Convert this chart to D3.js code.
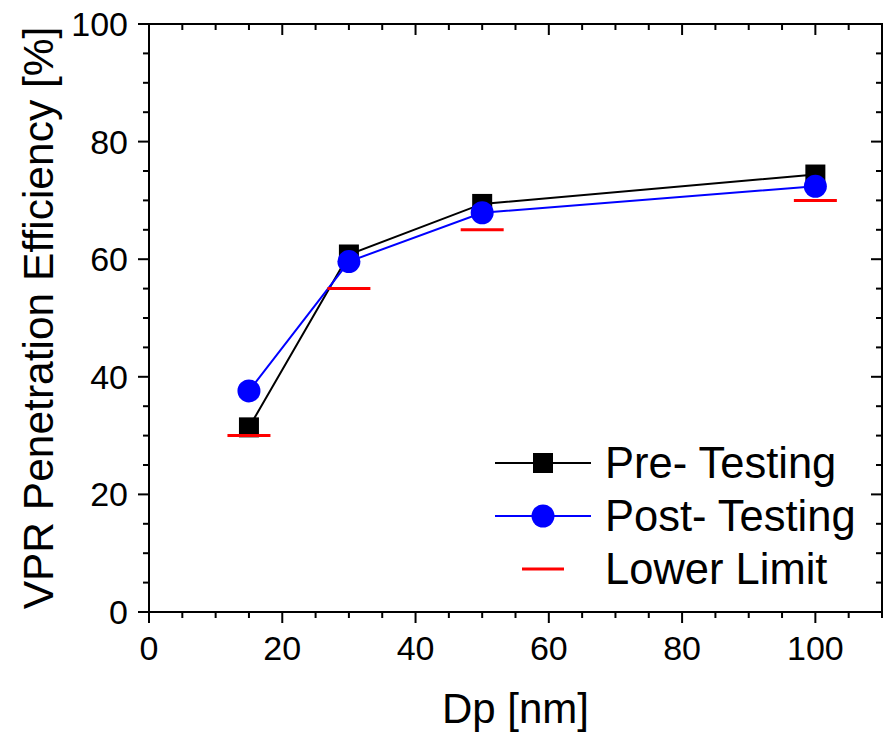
<!DOCTYPE html>
<html><head><meta charset="utf-8">
<script src="https://cdn.jsdelivr.net/npm/d3@7"></script>
<style>body{margin:0;background:#fff}</style>
</head><body>
<svg id="c" width="889" height="733"></svg>
<script>
const dp = [15, 30, 50, 100];
const preTesting = [31.4, 60.8, 69.4, 74.4];
const postTesting = [37.6, 59.6, 67.9, 72.4];
const lowerLimit = [30, 55, 65, 70];
const xTicks = [0, 20, 40, 60, 80, 100];
const yTicks = [0, 20, 40, 60, 80, 100];
const seriesNames = ["Pre- Testing", "Post- Testing", "Lower Limit"];

const font = "Liberation Sans, Arial, sans-serif";
const L = 149, R = 882, T = 24, B = 612;
const svg = d3.select("#c");
const x = d3.scaleLinear().domain([0, 110]).range([L, R]);
const y = d3.scaleLinear().domain([0, 100]).range([B, T]);

const minorX = d3.range(0, 111, 5).filter(v => v % 20 !== 0);
const minorY = d3.range(0, 101, 5).filter(v => v % 20 !== 0);

// frame
svg.append("rect").attr("x", L).attr("y", T).attr("width", R - L).attr("height", B - T)
  .attr("fill", "none").attr("stroke", "#000").attr("stroke-width", 2);

const tk = svg.append("g").attr("stroke", "#000").attr("stroke-width", 2);
xTicks.forEach(v => tk.append("line").attr("x1", x(v)).attr("x2", x(v)).attr("y1", B).attr("y2", B + 11));
minorX.forEach(v => tk.append("line").attr("x1", x(v)).attr("x2", x(v)).attr("y1", B).attr("y2", B + 6));
xTicks.forEach(v => tk.append("line").attr("x1", x(v)).attr("x2", x(v)).attr("y1", T).attr("y2", T + 11));
minorX.forEach(v => tk.append("line").attr("x1", x(v)).attr("x2", x(v)).attr("y1", T).attr("y2", T + 6));
yTicks.forEach(v => tk.append("line").attr("y1", y(v)).attr("y2", y(v)).attr("x1", L).attr("x2", L - 11));
minorY.forEach(v => tk.append("line").attr("y1", y(v)).attr("y2", y(v)).attr("x1", L).attr("x2", L - 6));
yTicks.forEach(v => tk.append("line").attr("y1", y(v)).attr("y2", y(v)).attr("x1", R).attr("x2", R - 11));
minorY.forEach(v => tk.append("line").attr("y1", y(v)).attr("y2", y(v)).attr("x1", R).attr("x2", R - 6));

// tick labels
svg.append("g").selectAll("text").data(xTicks).join("text")
  .attr("x", d => x(d)).attr("y", 660).attr("text-anchor", "middle")
  .attr("font-family", font).attr("font-size", 34).text(d => d);
svg.append("g").selectAll("text").data(yTicks).join("text")
  .attr("x", 128).attr("y", d => y(d) + 12).attr("text-anchor", "end")
  .attr("font-family", font).attr("font-size", 34).text(d => d);

// titles
svg.append("text").attr("x", (L + R) / 2).attr("y", 723).attr("text-anchor", "middle")
  .attr("font-family", font).attr("font-size", 42).text("Dp [nm]");
svg.append("text").attr("transform", `translate(53,${(T + B) / 2}) rotate(-90)`)
  .attr("text-anchor", "middle").attr("font-family", font).attr("font-size", 42.5)
  .text("VPR Penetration Efficiency [%]");

const line = d3.line();
const pre = dp.map((d, i) => [x(d), y(preTesting[i])]);
const post = dp.map((d, i) => [x(d), y(postTesting[i])]);

svg.append("path").attr("d", line(pre)).attr("fill", "none").attr("stroke", "#000").attr("stroke-width", 2);
svg.append("g").selectAll("rect").data(pre).join("rect")
  .attr("x", d => d[0] - 10).attr("y", d => d[1] - 10).attr("width", 20).attr("height", 20).attr("fill", "#000");

svg.append("path").attr("d", line(post)).attr("fill", "none").attr("stroke", "#0000ff").attr("stroke-width", 2);
svg.append("g").selectAll("circle").data(post).join("circle")
  .attr("cx", d => d[0]).attr("cy", d => d[1]).attr("r", 11.5).attr("fill", "#0000ff");

svg.append("g").selectAll("line").data(dp).join("line")
  .attr("x1", (d) => x(d) - 21.5).attr("x2", d => x(d) + 21.5)
  .attr("y1", (d, i) => y(lowerLimit[i])).attr("y2", (d, i) => y(lowerLimit[i]))
  .attr("stroke", "#ff0000").attr("stroke-width", 3);

// legend
const lg = svg.append("g");
const rows = [463, 516, 569];
lg.append("line").attr("x1", 495).attr("x2", 591).attr("y1", rows[0]).attr("y2", rows[0]).attr("stroke", "#000").attr("stroke-width", 2);
lg.append("rect").attr("x", 543 - 10).attr("y", rows[0] - 10).attr("width", 20).attr("height", 20).attr("fill", "#000");
lg.append("line").attr("x1", 495).attr("x2", 591).attr("y1", rows[1]).attr("y2", rows[1]).attr("stroke", "#0000ff").attr("stroke-width", 2);
lg.append("circle").attr("cx", 543).attr("cy", rows[1]).attr("r", 11.5).attr("fill", "#0000ff");
lg.append("line").attr("x1", 522).attr("x2", 564).attr("y1", rows[2]).attr("y2", rows[2]).attr("stroke", "#ff0000").attr("stroke-width", 3);
lg.selectAll("text").data(seriesNames).join("text")
  .attr("x", 605).attr("y", (d, i) => rows[i] + 15)
  .attr("font-family", font).attr("font-size", 43.5).text(d => d);
</script>
</body></html>
